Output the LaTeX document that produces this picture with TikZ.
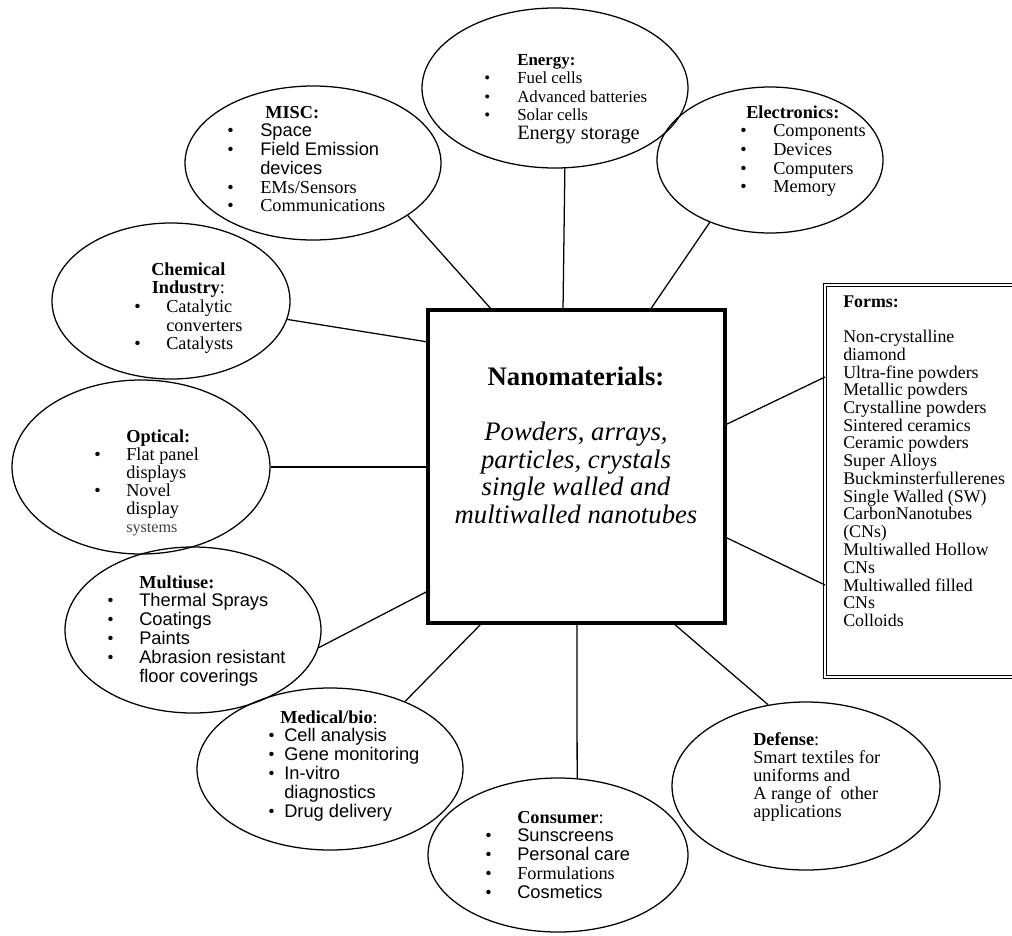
\documentclass[tikz,border=0pt]{standalone}
\usepackage{fontspec}
\setmainfont{Liberation Serif}
\setsansfont{Liberation Sans}
\usetikzlibrary{shapes.geometric,calc}

% one unit of the picture = one pixel of the 1012x935 layout
\newlength{\pxu}
\setlength{\pxu}{0.025cm}

\tikzset{
  field/.style={draw, ellipse, line width=0.9pt, inner sep=0pt},
  blurb/.style={anchor=base west, inner sep=0pt, font=\fontsize{13}{13.3}\selectfont},
  mainbox/.style={draw, line width=2.8pt, inner sep=0pt, outer sep=0pt},
  formbox/.style={draw, double, double distance=1.4pt, line width=0.8pt, inner sep=0pt, outer sep=0pt},
  link/.style={line width=0.9pt}
}

\begin{document}
\begin{tikzpicture}[x=0.025cm, y=-0.025cm]

    \useasboundingbox (0,0) rectangle (1012,935);
    \clip (0,0) rectangle (1012,935);

    % The central box and the box of forms
    \node[mainbox, minimum width=297*\pxu, minimum height=313*\pxu] (nano) at (576.5,466.5) {};
    \node[formbox, minimum width=205*\pxu, minimum height=392*\pxu] (forms) at (927.5,481) {};

    % The ellipses of the fields of use
    \node[field, minimum width=266*\pxu, minimum height=160*\pxu] (energy) at (555,88) {};
    \node[field, minimum width=256*\pxu, minimum height=154*\pxu] (misc) at (313,163) {};
    \node[field, minimum width=226*\pxu, minimum height=146*\pxu] (elec) at (770,160) {};
    \node[field, minimum width=238*\pxu, minimum height=156*\pxu] (chem) at (171,301) {};
    \node[field, minimum width=258*\pxu, minimum height=174*\pxu] (optic) at (141,467) {};
    \node[field, minimum width=256*\pxu, minimum height=166*\pxu] (multi) at (193,630) {};
    \node[field, minimum width=266*\pxu, minimum height=162*\pxu] (med) at (330,769) {};
    \node[field, minimum width=260*\pxu, minimum height=154*\pxu] (cons) at (558,855) {};
    \node[field, minimum width=268*\pxu, minimum height=168*\pxu] (def) at (806,786) {};

    % Texts
    \node[blurb, anchor=base] (nano-t) at (576,385) {\fontsize{19}{19.6}\selectfont
      \begin{tabular}[t]{@{}c@{}}
        \textbf{Nanomaterials:}\\[20pt]
        \textit{Powders, arrays,}\\
        \textit{particles, crystals}\\
        \textit{single walled and}\\
        \textit{multiwalled nanotubes}
      \end{tabular}};

    \node[blurb, font=\fontsize{12.7}{12.6}\selectfont] (forms-t) at (843,307) {%
      \begin{tabular}[t]{@{}l@{}}
        \textbf{Forms:}\\
        \\
        Non-crystalline\\
        diamond\\
        Ultra-fine powders\\
        Metallic powders\\
        Crystalline powders\\
        Sintered ceramics\\
        Ceramic powders\\
        Super Alloys\\
        Buckminsterfullerenes\\
        Single Walled (SW)\\
        CarbonNanotubes\\
        (CNs)\\
        Multiwalled Hollow\\
        CNs\\
        Multiwalled filled\\
        CNs\\
        Colloids
      \end{tabular}};

    \node[blurb, font=\fontsize{12}{13.2}\selectfont] (energy-t) at (484,65) {%
      \begin{tabular}[t]{@{}p{33\pxu}@{}l@{}}
        & \textbf{Energy:}\\
        \textbullet & Fuel cells\\
        \textbullet & Advanced batteries\\
        \textbullet & Solar cells\\
        & {\fontsize{14.5}{14.5}\selectfont Energy storage}
      \end{tabular}};

    \node[blurb] (misc-t) at (227,118) {%
      \begin{tabular}[t]{@{}p{33\pxu}@{}l@{}}
        & \hspace{5\pxu}\textbf{MISC:}\\
        \textbullet & \sffamily Space\\
        \textbullet & \sffamily Field Emission\\
        & \sffamily devices\\
        \textbullet & EMs/Sensors\\
        \textbullet & Communications
      \end{tabular}};

    \node[blurb] (elec-t) at (740,118) {%
      \begin{tabular}[t]{@{}p{33\pxu}@{}l@{}}
        \multicolumn{2}{@{}l@{}}{\hspace{6\pxu}\textbf{Electronics:}}\\
        \textbullet & Components\\
        \textbullet & Devices\\
        \textbullet & Computers\\
        \textbullet & Memory
      \end{tabular}};

    \node[blurb] (chem-t) at (134,275) {%
      \begin{tabular}[t]{@{}p{32\pxu}@{}l@{}}
        \multicolumn{2}{@{}c@{}}{\textbf{Chemical}}\\
        \multicolumn{2}{@{}c@{}}{\textbf{Industry}:}\\
        \textbullet & Catalytic\\
        & converters\\
        \textbullet & Catalysts
      \end{tabular}};

    \node[blurb, font=\fontsize{13}{12.7}\selectfont] (optic-t) at (94,442) {%
      \begin{tabular}[t]{@{}p{32\pxu}@{}l@{}}
        & \textbf{Optical:}\\
        \textbullet & Flat panel\\
        & displays\\
        \textbullet & Novel\\
        & display\\
        & {\fontsize{11.5}{11.5}\selectfont\color{black!75}systems}
      \end{tabular}};

    \node[blurb] (multi-t) at (107,588) {%
      \begin{tabular}[t]{@{}p{32\pxu}@{}l@{}}
        & \textbf{Multiuse:}\\
        \textbullet & \sffamily Thermal Sprays\\
        \textbullet & \sffamily Coatings\\
        \textbullet & \sffamily Paints\\
        \textbullet & \sffamily Abrasion resistant\\
        & \sffamily floor coverings
      \end{tabular}};

    \node[blurb] (med-t) at (268,723) {%
      \begin{tabular}[t]{@{}p{16\pxu}@{}l@{}}
        \multicolumn{2}{@{}l@{}}{\hspace{12\pxu}\textbf{Medical/bio}:}\\
        \textbullet & \sffamily Cell analysis\\
        \textbullet & \sffamily Gene monitoring\\
        \textbullet & \sffamily In-vitro\\
        & \sffamily diagnostics\\
        \textbullet & \sffamily Drug delivery
      \end{tabular}};

    \node[blurb] (cons-t) at (485,823) {%
      \begin{tabular}[t]{@{}p{32\pxu}@{}l@{}}
        & \textbf{Consumer}:\\
        \textbullet & \sffamily Sunscreens\\
        \textbullet & \sffamily Personal care\\
        \textbullet & Formulations\\
        \textbullet & \sffamily Cosmetics
      \end{tabular}};

    \node[blurb, font=\fontsize{13}{12.6}\selectfont] (def-t) at (753,745) {%
      \begin{tabular}[t]{@{}l@{}}
        \textbf{Defense}:\\
        Smart textiles for\\
        uniforms and\\
        A range of \ other\\
        applications
      \end{tabular}};

    % Connectors from the ellipses to the central box
    \draw[link] (misc.-29) -- ($(nano.north west)+(64,0)$);
    \draw[link] (energy.-83) -- ($(nano.north west)+(135,0)$);
    \draw[link] (elec.-134) -- ($(nano.north west)+(222,0)$);
    \draw[link] (chem.-9) -- ($(nano.north west)+(0,32)$);
    \draw[link] (optic.east) -- ($(nano.north west)+(0,157)$);
    \draw[link] (multi.-8) -- ($(nano.north west)+(0,281)$);
    \draw[link] (med.42) -- ($(nano.south west)+(54,0)$);
    \draw[link] (cons.76) -- ($(nano.south west)+(149,0)$);
    \draw[link] (def.115) -- ($(nano.south west)+(245,0)$);

    % Connectors from the central box to the forms
    \draw[link] ($(nano.north east)+(0,115)$) -- ($(forms.north west)+(0,92)$);
    \draw[link] ($(nano.north east)+(0,227)$) -- ($(forms.north west)+(0,300)$);

\end{tikzpicture}
\end{document}
